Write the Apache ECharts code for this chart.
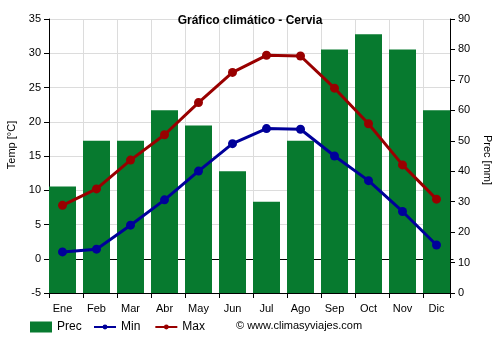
<!DOCTYPE html>
<html><head><meta charset="utf-8">
<script src="https://cdn.jsdelivr.net/npm/echarts@6/dist/echarts.min.js"></script>
<style>html,body{margin:0;padding:0;background:#fff}#c{width:500px;height:350px}</style>
</head><body><div id="c"></div>
<script>
const months = ['Ene','Feb','Mar','Abr','May','Jun','Jul','Ago','Sep','Oct','Nov','Dic'];
const prec = [35, 50, 50, 60, 55, 40, 30, 50, 80, 85, 80, 60];
const tMin = [1.0, 1.4, 4.9, 8.6, 12.8, 16.8, 19.0, 18.9, 15.0, 11.4, 6.9, 2.0];
const tMax = [7.8, 10.2, 14.4, 18.1, 22.8, 27.2, 29.7, 29.6, 24.9, 19.7, 13.7, 8.7];
const tempTicks = {min: -5, max: 35, interval: 5};
const precTicks = {min: 0, max: 90, interval: 10};

const font = 'Liberation Sans, Arial, sans-serif';
const chart = echarts.init(document.getElementById('c'), null, {renderer: 'canvas'});
const axisLbl = {color: '#000', fontFamily: font, fontSize: 11};
const legendText = {fontFamily: font, fontSize: 12, color: '#000'};
chart.setOption({
  animation: false,
  title: {text: 'Gráfico climático - Cervia', left: 'center', top: 10,
    textStyle: {fontFamily: font, fontSize: 12, fontWeight: 'bold', color: '#000'}},
  grid: [
    {left: 49, right: 50, top: 19, bottom: 57},
    {left: 45.5, right: 46.5, top: 19, bottom: 57}
  ],
  xAxis: [
    {type: 'value', gridIndex: 0, min: 0, max: 401/34, interval: 1,
     axisLine: {show: true, onZero: false, lineStyle: {color: '#000'}},
     axisTick: {show: true, length: 5, lineStyle: {color: '#000'}},
     axisLabel: {show: false},
     splitLine: {show: true, lineStyle: {color: '#dcdcdc'}}},
    {type: 'category', gridIndex: 1, data: months,
     axisLine: {show: false}, axisTick: {show: false}, splitLine: {show: false},
     axisLabel: Object.assign({margin: 10}, axisLbl)}
  ],
  yAxis: [
    Object.assign({type: 'value', gridIndex: 0, position: 'left'}, tempTicks, {
     axisLine: {show: true, lineStyle: {color: '#000'}},
     axisTick: {show: true, length: 5, lineStyle: {color: '#000'}},
     axisLabel: Object.assign({margin: 8}, axisLbl),
     splitLine: {show: true, lineStyle: {color: '#dcdcdc'}}}),
    Object.assign({type: 'value', gridIndex: 0, position: 'right'}, precTicks, {
     axisLine: {show: true, lineStyle: {color: '#000'}},
     axisTick: {show: true, length: 5, lineStyle: {color: '#000'}},
     axisLabel: Object.assign({margin: 8}, axisLbl),
     splitLine: {show: false}}),
    Object.assign({type: 'value', gridIndex: 1}, tempTicks, {show: false, splitLine: {show: false}}),
    Object.assign({type: 'value', gridIndex: 1}, precTicks, {show: false, splitLine: {show: false}})
  ],
  legend: [
    {bottom: 12, left: 25, itemWidth: 22, itemHeight: 11, textStyle: legendText,
     data: [{name: 'Prec', icon: 'rect'}]},
    {bottom: 12, left: 88, itemWidth: 22, itemHeight: 6, itemGap: 14, textStyle: legendText,
     data: ['Min', 'Max']}
  ],
  graphic: [
    {type: 'text', left: 236, top: 320, style: {text: '© www.climasyviajes.com', fontFamily: font, fontSize: 11, fill: '#000'}},
    {type: 'text', x: 12, y: 145, rotation: Math.PI/2, style: {text: 'Temp [°C]', fontFamily: font, fontSize: 11, fill: '#000', align: 'center', verticalAlign: 'middle'}},
    {type: 'text', x: 487, y: 160, rotation: -Math.PI/2, style: {text: 'Prec [mm]', fontFamily: font, fontSize: 11, fill: '#000', align: 'center', verticalAlign: 'middle'}}
  ],
  series: [
    {name: 'Prec', type: 'bar', xAxisIndex: 1, yAxisIndex: 3, data: prec, barWidth: 27,
     itemStyle: {color: '#077a2f'}, zlevel: 1, z: 2},
    {name: 'Min', type: 'line', xAxisIndex: 1, yAxisIndex: 2, data: tMin,
     symbol: 'circle', symbolSize: 9, lineStyle: {color: '#00009a', width: 3},
     itemStyle: {color: '#00009a'}, zlevel: 1, z: 4},
    {name: 'Max', type: 'line', xAxisIndex: 1, yAxisIndex: 2, data: tMax,
     symbol: 'circle', symbolSize: 9, lineStyle: {color: '#990000', width: 3},
     itemStyle: {color: '#990000'}, zlevel: 1, z: 5,
     markLine: {zlevel: 0, z: 1, silent: true, symbol: 'none', label: {show: false},
       lineStyle: {color: '#000', type: 'solid', width: 1},
       data: [{yAxis: 0}], animation: false}}
  ]
});
</script></body></html>
